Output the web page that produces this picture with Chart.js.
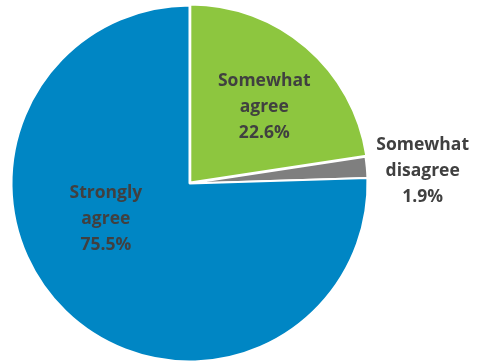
<!DOCTYPE html>
<html>
<head>
<meta charset="utf-8">
<script src="https://cdn.jsdelivr.net/npm/chart.js@4/dist/chart.umd.min.js"></script>
<style>
  html, body { margin: 0; padding: 0; background: #fff; overflow: hidden; }
  #wrap { position: relative; width: 479px; height: 370px; }
</style>
</head>
<body>
<div id="wrap"><canvas id="pie"></canvas></div>
<script>
// Chart data
const categories = ['Somewhat agree', 'Somewhat disagree', 'Strongly agree'];
const labelLines = [['Somewhat', 'agree'], ['Somewhat', 'disagree'], ['Strongly', 'agree']];
const shares = [22.6, 1.9, 75.5];

// Slice colours
const sliceColors = ['#8DC63F', '#7F7F7F', '#0086C4'];

// Label placement, as fractions of the radius from the pie centre
const labelSpots = [[0.42, -0.43], [1.31, -0.07], [-0.47, 0.20]];

// Draws the Excel-style data labels (name + value)
const sliceLabels = {
  id: 'sliceLabels',
  afterDatasetsDraw(chart) {
    const ctx = chart.ctx;
    const arcs = chart.getDatasetMeta(0).data;
    const first = arcs[1];
    const cx = first.x, cy = first.y, r = first.outerRadius;
    ctx.save();
    ctx.fillStyle = '#404040';
    ctx.font = 'bold 17.5px "Open Sans", sans-serif';
    ctx.textAlign = 'center';
    ctx.textBaseline = 'middle';
    arcs.forEach((arc, i) => {
      const lines = [...labelLines[i], shares[i].toFixed(1) + '%'];
      const x = cx + labelSpots[i][0] * r;
      const y = cy + labelSpots[i][1] * r;
      lines.forEach((t, k) => {
        ctx.fillText(t, x, y + (k - 1) * 26);
      });
    });
    ctx.restore();
  }
};

new Chart(document.getElementById('pie'), {
  type: 'pie',
  data: {
    labels: categories,
    datasets: [{
      data: shares,
      backgroundColor: sliceColors,
      borderColor: '#ffffff',
      borderWidth: 2,
      offset: [5, 0, 0]
    }]
  },
  options: {
    responsive: true,
    maintainAspectRatio: false,
    animation: false,
    layout: { padding: { left: 8, right: 108, top: 2, bottom: 5 } },
    plugins: {
      legend: { display: false },
      tooltip: { enabled: false }
    }
  },
  plugins: [sliceLabels]
});
</script>
</body>
</html>
